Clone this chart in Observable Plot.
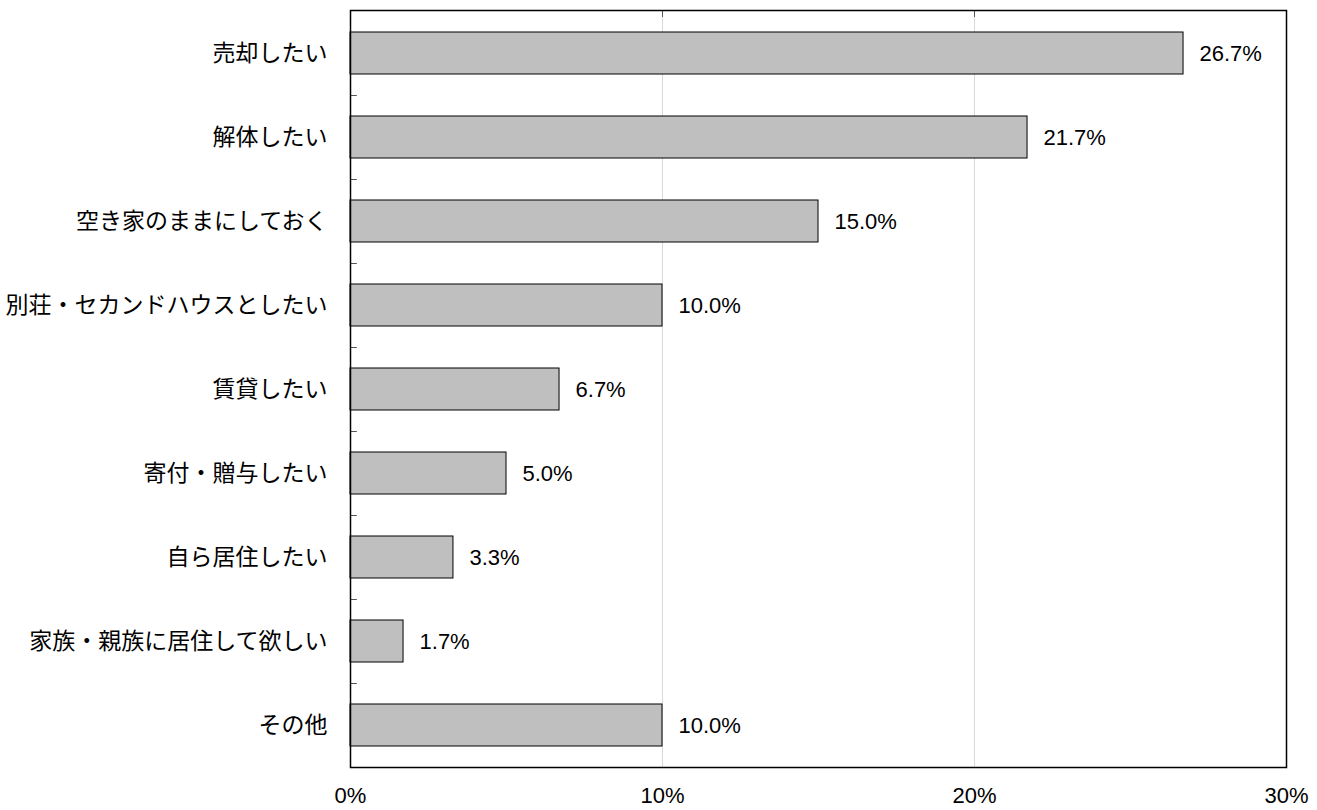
<!DOCTYPE html>
<html>
<head>
<meta charset="utf-8">
<script src="https://cdn.jsdelivr.net/npm/d3@7"></script>
<script src="https://cdn.jsdelivr.net/npm/@observablehq/plot@0.6"></script>
<style>
  html, body { margin: 0; padding: 0; background: #fff; }
  #chart svg { display: block; }
</style>
</head>
<body>
<div id="chart"></div>
<script>
const categories = [
  "売却したい",
  "解体したい",
  "空き家のままにしておく",
  "別荘・セカンドハウスとしたい",
  "賃貸したい",
  "寄付・贈与したい",
  "自ら居住したい",
  "家族・親族に居住して欲しい",
  "その他"
];
const values = [26.7, 21.7, 15.0, 10.0, 6.7, 5.0, 3.3, 1.7, 10.0];
const xTicks = [0, 10, 20, 30];
const gridTicks = [10, 20];

const data = categories.map((c, i) => ({category: c, value: values[i]}));

const numFont = "'Liberation Sans', Arial, sans-serif";
const jpFont = "'Noto Sans CJK JP', sans-serif";

const chart = Plot.plot({
  width: 1317,
  height: 810,
  marginLeft: 350,
  marginRight: 31,
  marginTop: 10,
  marginBottom: 43,
  style: {fontFamily: jpFont, color: "#000", background: "#fff"},
  x: {domain: [0, 30]},
  y: {domain: categories, paddingInner: 0.5, paddingOuter: 0.25, align: 0.5},
  marks: [
    Plot.gridX(gridTicks, {stroke: "#d9d9d9", strokeOpacity: 1, strokeWidth: 1}),
    Plot.barX(data, {x: "value", y: "category", fill: "#bfbfbf", stroke: "#000", strokeWidth: 1}),
    Plot.text(data, {
      x: "value", y: "category",
      text: d => d.value.toFixed(1) + "%",
      dx: 16, textAnchor: "start",
      fontSize: 22, fontFamily: numFont, fill: "#000"
    }),
    Plot.ruleY(categories.slice(1), {x1: 0, x2: 0.22, dy: -42, stroke: "#555", strokeWidth: 1}),
    Plot.axisX({anchor: "top", ticks: gridTicks, tickSize: 6, dy: 6, tickFormat: () => "", stroke: "#555", label: null}),
    Plot.axisX({
      anchor: "bottom", ticks: xTicks, tickSize: 0, tickPadding: 20,
      tickFormat: d => d + "%", fontSize: 22, fontFamily: numFont, label: null
    }),
    Plot.axisY({tickSize: 0, tickPadding: 23, fontSize: 23, fontFamily: jpFont, label: null}),
    Plot.frame({stroke: "#000", strokeWidth: 1.5})
  ]
});
document.getElementById("chart").appendChild(chart);
</script>
</body>
</html>
